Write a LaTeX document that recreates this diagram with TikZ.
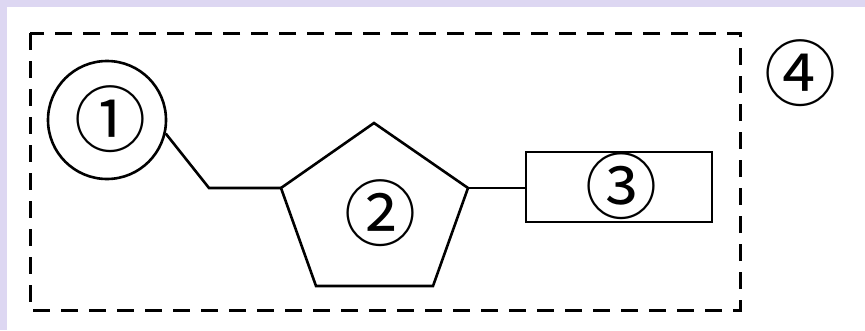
\documentclass[tikz,border=0pt]{standalone}
\usepackage{fontspec}
\newfontfamily\circfont{Noto Sans CJK SC}
\definecolor{lav}{RGB}{221,215,242}
\tikzset{
  lbl/.style={inner sep=0pt, font=\circfont\fontsize{72}{72}\selectfont},
  ln/.style={line width=2.6pt, line join=miter},
  dbox/.style={line width=3pt, dash pattern=on 17pt off 11pt}
}
\begin{document}
\begin{tikzpicture}[x=1pt,y=-1pt]
\fill[lav] (0,0) rectangle (865,330);
\fill[white] (7,7) rectangle (865,330);
\useasboundingbox (0,0) rectangle (865,330);
\draw[dbox] (30,33) rectangle (740,310);
% phosphate
\node[draw, circle, ln, minimum size=118pt, inner sep=0pt] (c1) at (107,120) {};
\node[lbl] (t1) at (110,119) {①};
% pentagon
\coordinate (pt) at (374,123);
\coordinate (pr) at (468,188);
\coordinate (pbr) at (433,286);
\coordinate (pbl) at (316,286);
\coordinate (pl) at (281,188);
\draw[ln] (pt) -- (pr) -- (pbr) -- (pbl) -- (pl) -- cycle;
\node[lbl] (t2) at (380,213) {②};
% base
\node[draw, ln, minimum width=186pt, minimum height=70pt, inner sep=0pt] (r3) at (619,187) {};
\node[lbl] (t3) at (621,186) {③};
\node[lbl] (t4) at (800,73) {④};
% connectors
\coordinate (bend) at (209,188);
\draw[ln] (c1.-13) -- (bend) -- (pl);
\draw[ln] (pr) -- (pr -| r3.west);
\end{tikzpicture}
\end{document}
